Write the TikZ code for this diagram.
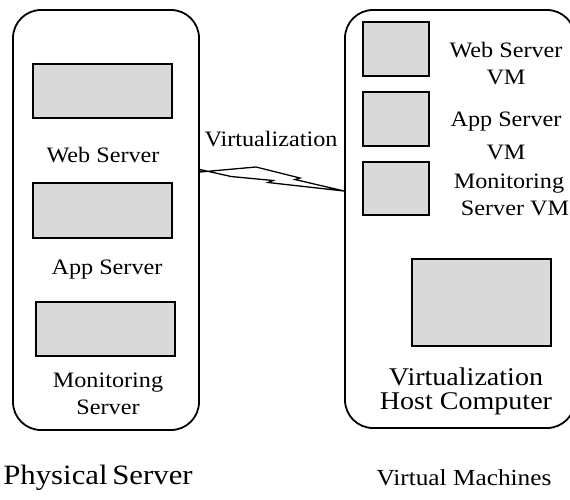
\documentclass[tikz,border=0pt]{standalone}
\usepackage{fontspec}
\setmainfont{Liberation Serif}[FakeStretch=1.1]
\begin{document}
\begin{tikzpicture}[x=1pt,y=-1pt,
  outerbox/.style={draw=black, line width=1.8pt, rounded corners=28pt, inner sep=0pt},
  unit/.style={draw=black, line width=1.5pt, fill=gray!30, inner sep=0pt},
  lbl/.style={font=\fontsize{22}{27}\selectfont, align=center, inner sep=0pt},
  biglbl/.style={font=\fontsize{25.5}{24}\selectfont, align=center, inner sep=0pt},
  title/.style={font=\fontsize{28}{30}\selectfont, inner sep=0pt}]
\useasboundingbox (0,0) rectangle (570,499);

% physical server enclosure
\node[outerbox, minimum width=186pt, minimum height=420pt] (phys) at (106,220) {};
\node[unit, minimum width=139pt, minimum height=54pt] (web) at (102.5,91) {};
\node[lbl] (webl) at (103,155) {Web Server};
\node[unit, minimum width=139pt, minimum height=55pt] (app) at (102.5,210.5) {};
\node[lbl] (appl) at (107,270) {App Server};
\node[unit, minimum width=139pt, minimum height=54pt] (mon) at (105.5,329) {};
\node[lbl] (monl) at (108,394) {Monitoring\\Server};
\node[title] (physl) at (98,478) {Physical\,Server};

% virtualization host enclosure
\node[outerbox, minimum width=230pt, minimum height=418pt] (host) at (460,219) {};
\node[unit, minimum width=66pt, minimum height=54pt] (vm1) at (396,49) {};
\node[unit, minimum width=66pt, minimum height=54pt] (vm2) at (396,119) {};
\node[unit, minimum width=66pt, minimum height=53pt] (vm3) at (396,188.5) {};
\node[lbl] (vm1l) at (506,64) {Web Server\\VM};
\node[lbl] (vm2l) at (506,136) {App Server\\[6pt]VM};
\node[lbl] (vm3l) at (509,195) {Monitoring\\\ \ Server VM};
\node[unit, minimum width=139pt, minimum height=87pt] (hw) at (481.5,302.5) {};
\node[biglbl] (hostl) at (466,391) {Virtualization\\Host Computer};
\node[title, font=\fontsize{23}{25}\selectfont] (vml) at (464,478) {Virtual Machines};

% lightning link between the two enclosures
\coordinate (la) at (phys.east |- 0,172);
\coordinate (lb) at (host.west |- 0,191);
\node[lbl, anchor=south] (virt) at (271,147) {Virtualization};
\draw[line width=1.3pt, line join=miter, fill=white] (la) -- (256,167) -- (300,178)
  -- (295,179.5) -- (lb) -- (268,182.5) -- (273,180.5) -- (231,176.5)
  -- ([yshift=2.5pt]la) -- cycle;
\end{tikzpicture}
\end{document}
